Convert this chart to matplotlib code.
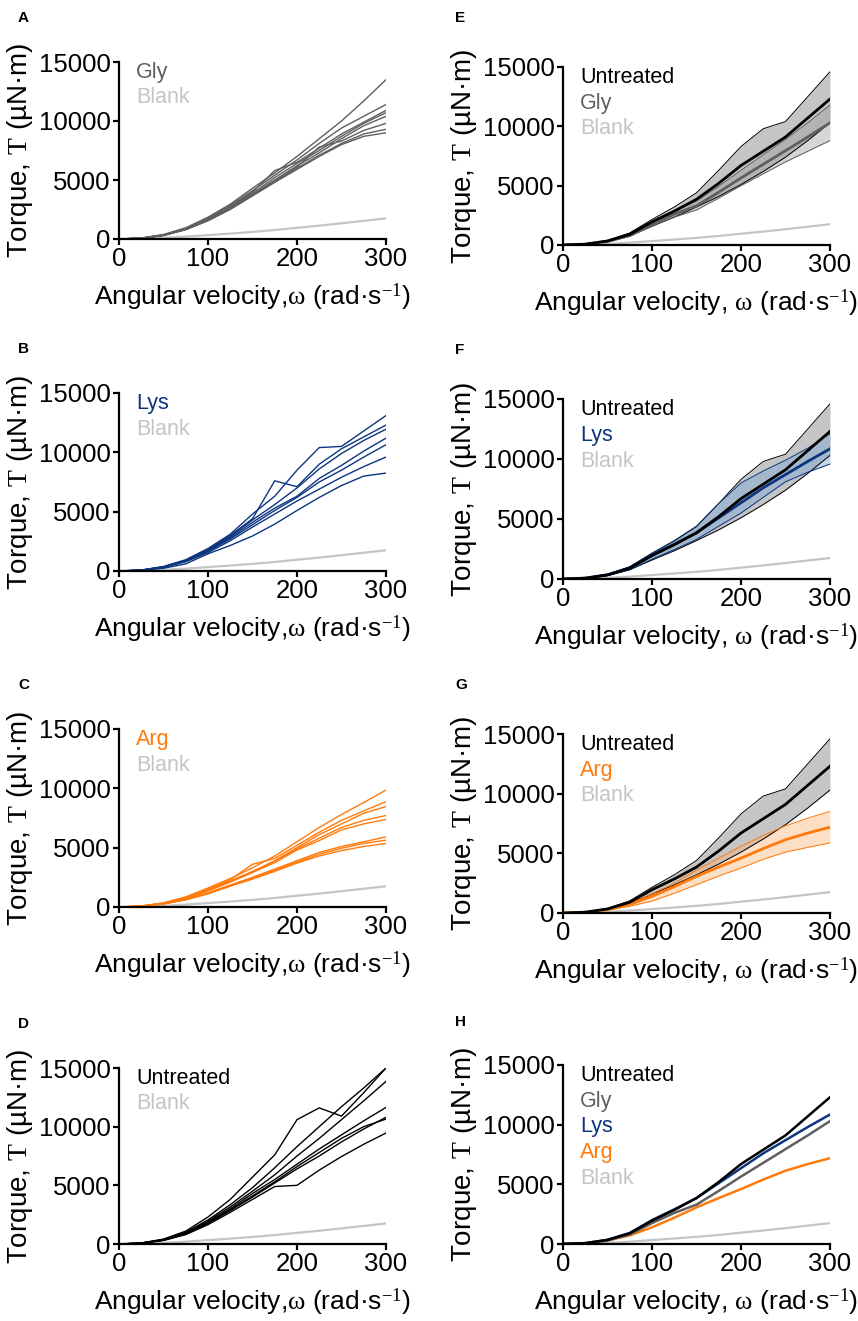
import matplotlib
matplotlib.use("Agg")
import matplotlib.pyplot as plt

plt.rcParams['font.family'] = ['Liberation Sans', 'DejaVu Sans']
plt.rcParams['mathtext.fontset'] = 'custom'
plt.rcParams['mathtext.rm'] = 'Liberation Serif'
plt.rcParams['mathtext.it'] = 'Liberation Serif:italic'

# angular velocity grid (rad/s)
omega = [0, 25, 50, 75, 100, 125, 150, 175, 200, 225, 250, 275, 300]

blank = [0, 30, 100, 200, 330, 460, 600, 760, 950, 1130, 1330, 1540, 1750]

gly_runs = [
    [0, 80, 380, 950, 1850, 2950, 4300, 5600, 7000, 8500, 10000, 11700, 13500],
    [0, 75, 350, 900, 1750, 2850, 4100, 5400, 6700, 8100, 9400, 10400, 11400],
    [0, 70, 340, 880, 1700, 2750, 4000, 5800, 6500, 7700, 8900, 9900, 10900],
    [0, 70, 330, 860, 1680, 2700, 3900, 5200, 6400, 7500, 8700, 9800, 10700],
    [0, 65, 320, 830, 1640, 2650, 3800, 5000, 6200, 7300, 8500, 9600, 10400],
    [0, 65, 310, 820, 1600, 2600, 3750, 4900, 6100, 7800, 8300, 9200, 9800],
    [0, 60, 300, 800, 1550, 2550, 3700, 4850, 6000, 7100, 8100, 8900, 9300],
    [0, 60, 300, 790, 1550, 2500, 3650, 4800, 5900, 7000, 8000, 8700, 9000],
]

lys_runs = [
    [0, 80, 380, 950, 1900, 3100, 4800, 6300, 8500, 10400, 10500, 11800, 13100],
    [0, 75, 360, 900, 1800, 3000, 4400, 7600, 7100, 9000, 10300, 11300, 12300],
    [0, 70, 340, 870, 1750, 2900, 4300, 5600, 7000, 8600, 9900, 11000, 11950],
    [0, 70, 330, 850, 1700, 2800, 4100, 5300, 6300, 7800, 8900, 10100, 11200],
    [0, 65, 320, 820, 1650, 2700, 3900, 5100, 6200, 7500, 8500, 9600, 10640],
    [0, 60, 300, 780, 1550, 2550, 3700, 4800, 5900, 6900, 7900, 8800, 9600],
    [0, 50, 230, 600, 1450, 2150, 2950, 3950, 5100, 6200, 7200, 8000, 8250],
]

arg_runs = [
    [0, 80, 350, 850, 1600, 2400, 3300, 4300, 5500, 6700, 7800, 8800, 9860],
    [0, 75, 330, 800, 1500, 2300, 3600, 4100, 5200, 6300, 7300, 8100, 8880],
    [0, 70, 310, 770, 1450, 2200, 3000, 3900, 5000, 6100, 7000, 7900, 8470],
    [0, 70, 300, 750, 1400, 2150, 2950, 3800, 4900, 5800, 6700, 7300, 7710],
    [0, 65, 290, 720, 1350, 2100, 2900, 3750, 4800, 5600, 6500, 7000, 7380],
    [0, 60, 270, 650, 1200, 1850, 2500, 3200, 3900, 4600, 5100, 5500, 5900],
    [0, 60, 260, 630, 1150, 1800, 2450, 3100, 3800, 4450, 4950, 5350, 5630],
    [0, 55, 250, 600, 1100, 1750, 2350, 3000, 3700, 4300, 4750, 5100, 5350],
]

untreated_runs = [
    [0, 90, 420, 1100, 2300, 3800, 5700, 7600, 10600, 11600, 10900, 12900, 15000],
    [0, 80, 380, 1000, 2050, 3350, 4800, 6500, 8300, 10000, 11700, 13300, 15000],
    [0, 75, 360, 950, 1950, 3150, 4500, 5900, 7500, 9000, 10600, 12200, 13860],
    [0, 70, 340, 900, 1850, 3000, 4300, 5500, 6800, 8100, 9300, 10500, 11640],
    [0, 70, 330, 880, 1800, 2900, 4100, 5300, 6600, 7800, 9000, 10000, 10650],
    [0, 65, 320, 850, 1750, 2850, 4000, 5200, 6400, 7500, 8700, 9800, 10800],
    [0, 60, 300, 800, 1650, 2700, 3800, 4900, 5000, 6300, 7450, 8500, 9460],
]

# mean and spread bands
unt_mean = [0, 70, 340, 900, 1950, 2850, 3850, 5200, 6700, 7900, 9100, 10700, 12300]
unt_upper = [0, 80, 390, 1020, 2150, 3200, 4400, 6300, 8300, 9800, 10400, 12500, 14600]
unt_lower = [0, 60, 290, 780, 1580, 2350, 3200, 4100, 5100, 6200, 7400, 8800, 10300]

gly_mean = [0, 60, 300, 800, 1750, 2600, 3300, 4450, 5650, 6800, 7950, 9100, 10300]
gly_upper = [0, 70, 340, 880, 1900, 2850, 3700, 4950, 6300, 7600, 8900, 10300, 11800]
gly_lower = [0, 55, 270, 720, 1600, 2350, 2950, 3950, 5000, 6000, 7000, 7900, 8800]

lys_mean = [0, 70, 350, 920, 2000, 2900, 3850, 5100, 6350, 7600, 8700, 9800, 10850]
lys_upper = [0, 80, 390, 1020, 2150, 3150, 4350, 6300, 8000, 9000, 9900, 10900, 12100]
lys_lower = [0, 55, 280, 760, 1650, 2450, 3300, 4400, 5500, 6800, 8100, 8900, 9580]

arg_mean = [0, 60, 290, 720, 1400, 2200, 3070, 3850, 4600, 5400, 6140, 6700, 7190]
arg_upper = [0, 70, 330, 820, 1600, 2500, 3600, 4600, 5600, 6500, 7300, 7950, 8520]
arg_lower = [0, 50, 230, 560, 1000, 1650, 2370, 3100, 3770, 4500, 5100, 5500, 5870]

BLACK = '#000000'
GLY = '#5f5f5f'
LYS = '#0c3580'
ARG = '#ff7a0a'
BLANK = '#c4c4c4'

W, H = 858, 1321
fig = plt.figure(figsize=(W / 100, H / 100), dpi=100)


def make_axes(left, top, bottom, width=267):
    ax = fig.add_axes([left / W, 1 - bottom / H, width / W, (bottom - top) / H])
    ax.set_xlim(0, 300)
    ax.set_ylim(0, 15000)
    ax.set_xticks([0, 100, 200, 300])
    ax.set_yticks([0, 5000, 10000, 15000])
    for s in ['top', 'right']:
        ax.spines[s].set_visible(False)
    for s in ['left', 'bottom']:
        ax.spines[s].set_linewidth(1.6)
    ax.tick_params(width=1.6, length=4, labelsize=18.5, pad=2)
    ax.set_ylabel(r"Torque, $\mathrm{T}$ (µN·m)", fontsize=20, labelpad=3)
    return ax


def legend(ax, items):
    for i, (txt, col) in enumerate(items):
        ax.text(0.065, 0.94 - i * 0.143, txt, color=col, fontsize=15.5,
                transform=ax.transAxes, va='center', ha='left')


left_rows = [(62, 239), (393, 571), (729, 907), (1068, 1244)]
right_rows = [(67, 245), (399, 579), (734, 913), (1065, 1244)]

# left column: individual runs
left_sets = [(gly_runs, GLY, 'Gly'), (lys_runs, LYS, 'Lys'),
             (arg_runs, ARG, 'Arg'), (untreated_runs, BLACK, 'Untreated')]
for (runs, col, name), (top, bot), letter in zip(left_sets, left_rows, 'ABCD'):
    ax = make_axes(119, top, bot)
    ax.plot(omega, blank, color=BLANK, lw=1.6)
    for r in runs:
        ax.plot(omega, r, color=col, lw=1.0)
    legend(ax, [(name, col), ('Blank', BLANK)])
    ax.set_xlabel(r"Angular velocity,$\mathrm{\omega}$ (rad·s$^{\mathrm{-1}}$)",
                  fontsize=19, labelpad=7)
    fig.text(18 / W, 1 - (top - 44) / H, letter, fontsize=11, fontweight='bold',
             va='center')


def band(ax, mean, lo, hi, col, fill, alpha, lw_mean=2.0):
    ax.fill_between(omega, lo, hi, color=fill, alpha=alpha, lw=0)
    ax.plot(omega, lo, color=col, lw=0.7)
    ax.plot(omega, hi, color=col, lw=0.7)
    ax.plot(omega, mean, color=col, lw=lw_mean)


groups = [('Gly', GLY, gly_mean, gly_lower, gly_upper, '#9a9a9a', 0.4),
          ('Lys', LYS, lys_mean, lys_lower, lys_upper, '#7fa6d6', 0.45),
          ('Arg', ARG, arg_mean, arg_lower, arg_upper, '#f9b070', 0.4)]

for (name, col, m, lo, hi, fill, a), (top, bot), letter in zip(groups, right_rows[:3], 'EFG'):
    ax = make_axes(563, top, bot)
    ax.plot(omega, blank, color=BLANK, lw=1.6)
    ax.fill_between(omega, unt_lower, unt_upper, color='#8c8c8c', alpha=0.5, lw=0)
    ax.plot(omega, unt_lower, color=BLACK, lw=0.7)
    ax.plot(omega, unt_upper, color=BLACK, lw=0.7)
    band(ax, m, lo, hi, col, fill, a)
    ax.plot(omega, unt_mean, color=BLACK, lw=2.0)
    legend(ax, [('Untreated', BLACK), (name, col), ('Blank', BLANK)])
    ax.set_xlabel(r"Angular velocity, $\mathrm{\omega}$ (rad·s$^{\mathrm{-1}}$)",
                  fontsize=19, labelpad=7)
    fig.text(455 / W, 1 - (top - 49) / H, letter, fontsize=11, fontweight='bold',
             va='center')

# panel H: means only
top, bot = right_rows[3]
ax = make_axes(563, top, bot)
ax.plot(omega, blank, color=BLANK, lw=1.6)
ax.plot(omega, arg_mean, color=ARG, lw=1.8)
ax.plot(omega, gly_mean, color=GLY, lw=1.8)
ax.plot(omega, lys_mean, color=LYS, lw=1.8)
ax.plot(omega, unt_mean, color=BLACK, lw=1.8)
legend(ax, [('Untreated', BLACK), ('Gly', GLY), ('Lys', LYS), ('Arg', ARG), ('Blank', BLANK)])
ax.set_xlabel(r"Angular velocity, $\mathrm{\omega}$ (rad·s$^{\mathrm{-1}}$)",
              fontsize=19, labelpad=7)
fig.text(455 / W, 1 - (top - 43) / H, 'H', fontsize=11, fontweight='bold', va='center')

fig.savefig('out.png', dpi=100)
